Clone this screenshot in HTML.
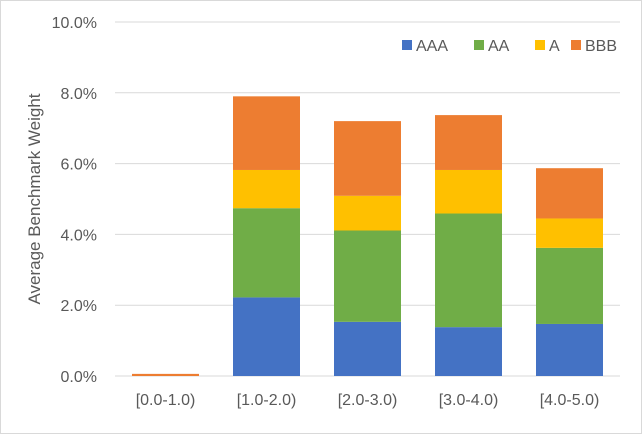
<!DOCTYPE html>
<html><head><style>
body{margin:0;background:#fff;}
svg{display:block;font-family:"Liberation Sans",sans-serif;}
</style></head><body>
<svg width="642" height="434">
<rect x="0.5" y="0.5" width="641" height="433" fill="#fff" stroke="#d9d9d9"/>
<g id="grid"></g><g id="bars"></g><g id="labels"></g>
<text transform="translate(40,199) rotate(-90)" text-anchor="middle" font-size="17" fill="#595959">Average Benchmark Weight</text>
<g id="legend"></g>
</svg>
<script>
const categories=["[0.0-1.0)","[1.0-2.0)","[2.0-3.0)","[3.0-4.0)","[4.0-5.0)"];
const seriesNames=["AAA","AA","A","BBB"];
const colors=["#4472c4","#70ad47","#ffc000","#ed7d31"];
const AAA=[0,2.22,1.53,1.38,1.47];
const AA=[0,2.52,2.58,3.21,2.15];
const A=[0,1.08,0.98,1.23,0.83];
const BBB=[0.06,2.08,2.11,1.55,1.42];
const yTicks=[0,2,4,6,8,10];
const series=[AAA,AA,A,BBB];
const ns="http://www.w3.org/2000/svg";
const L=115,R=620,T=22,B=376,yMax=10;
const y=v=>B-(v/yMax)*(B-T);
const bw=(R-L)/categories.length;
const x=i=>L+i*bw;
function mk(t,a,p){const e=document.createElementNS(ns,t);for(const k in a)e.setAttribute(k,a[k]);p.appendChild(e);return e;}
const g=document.getElementById('grid'),lb=document.getElementById('labels'),bg=document.getElementById('bars'),lg=document.getElementById('legend');
yTicks.forEach(t=>{
 const l=mk('line',{x1:L,x2:R,y1:y(t),y2:y(t),stroke:'#d9d9d9','stroke-width':1},g);
 
 
 const tx=mk('text',{x:97,y:y(t)+6,'text-anchor':'end','font-size':16,fill:'#595959'},lb);
 tx.textContent=t.toFixed(1)+'%';
 
 
});
categories.forEach((c,i)=>{
 let acc=0;
 series.forEach((s,k)=>{
  const v=s[i]; if(v<=0)return;
  const r=mk('rect',{x:x(i)+17,width:bw-34,y:y(acc+v),height:y(acc)-y(acc+v),fill:colors[k]},bg);
  
  
  acc+=v;
 });
 const tx=mk('text',{x:x(i)+bw/2,y:405,'text-anchor':'middle','font-size':16,fill:'#595959'},lb);
 tx.textContent=c;
 
 
});
const lx=[402,474,535,571];
seriesNames.forEach((n,k)=>{
 const r=mk('rect',{x:lx[k],y:40,width:10,height:10,fill:colors[k]},lg);
 
 
 const t=mk('text',{x:lx[k]+14,y:51,'font-size':16,fill:'#595959'},lg);
 t.textContent=n;
 
 
});
</script>
</body></html>
